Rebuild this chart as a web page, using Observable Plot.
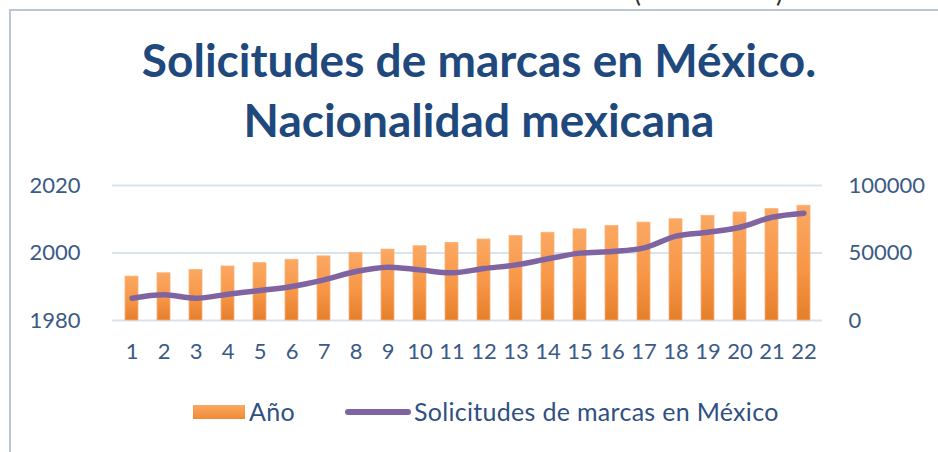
<!DOCTYPE html>
<html>
<head>
<meta charset="utf-8">
<script src="https://cdn.jsdelivr.net/npm/d3@7"></script>
<script src="https://cdn.jsdelivr.net/npm/@observablehq/plot@0.6"></script>
<style>
  html, body { margin: 0; padding: 0; background: #fff; }
  #page { position: relative; width: 938px; height: 452px; overflow: hidden; background: #fff; font-family: Lato, "Open Sans", sans-serif; }
  #frame { position: absolute; left: 9px; top: 9px; width: 960px; height: 470px; border-left: 2px solid #bcc6d3; border-top: 2px solid #bcc6d3; }
  .paren { position: absolute; top: -24px; font-size: 26px; color: #333; font-family: Lato, sans-serif; }
  #title { position: absolute; left: 79px; width: 800px; top: 30px; text-align: center; font-weight: 700; font-size: 46px; line-height: 60px; color: #1f497d; }
  #chart { position: absolute; left: 0; top: 160px; }
  .leg { position: absolute; font-size: 25px; color: #2f5082; line-height: 26px; letter-spacing: 0.3px; }
</style>
</head>
<body>
<div id="page">
  <div id="frame"></div>
  <div class="paren" style="left:634px">(</div>
  <div class="paren" style="left:776px">)</div>
  <div id="title">Solicitudes de marcas en México.<br>Nacionalidad mexicana</div>
  <div id="chart"></div>
  <div style="position:absolute;left:193px;top:405px;width:52px;height:14px;background:linear-gradient(#fba862,#f08a35);"></div>
  <div class="leg" style="left:249px;top:398px">Año</div>
  <div style="position:absolute;left:345px;top:409px;width:66px;height:6px;border-radius:3px;background:#8064a2;"></div>
  <div class="leg" style="left:414px;top:398px">Solicitudes de marcas en México</div>
</div>
<script>
const categorias = [1,2,3,4,5,6,7,8,9,10,11,12,13,14,15,16,17,18,19,20,21,22];
const anios = [1993,1994,1995,1996,1997,1998,1999,2000,2001,2002,2003,2004,2005,2006,2007,2008,2009,2010,2011,2012,2013,2014];
const solicitudes = [16500,19000,16500,19500,22200,25200,30100,36300,39500,37500,35300,38500,41200,45700,49900,51100,53800,62500,65400,69100,76500,79500];
const ticksIzq = [1980, 2000, 2020];
const ticksDer = [0, 50000, 100000];

// secondary axis mapped onto the primary scale
const sec = d3.scaleLinear([0, 100000], [1980, 2020]);

const datos = categorias.map((c, i) => ({cat: c, anio: anios[i], sol: solicitudes[i], solY: sec(solicitudes[i])}));

const chart = Plot.plot({
  width: 938,
  height: 215,
  marginTop: 25,
  marginBottom: 55,
  marginLeft: 112,
  marginRight: 116,
  style: {fontFamily: "Lato, 'Open Sans', sans-serif", fontSize: "22px", color: "#3b5a85", background: "transparent", overflow: "visible"},
  x: {type: "band", domain: categorias, paddingInner: 0.6, paddingOuter: 0.3, align: 0.5, axis: null},
  y: {domain: [1980, 2020], axis: null},
  marks: [
    Plot.ruleY(ticksIzq, {stroke: "#d8e3f0", strokeWidth: 2}),
    Plot.barY(datos, {x: "cat", y1: 1980, y2: "anio", fill: "url(#barGrad)", stroke: "#fbb27a", strokeWidth: 0.8}),
    Plot.line(datos, {x: "cat", y: "solY", stroke: "#8064a2", strokeWidth: 5.5, curve: "catmull-rom", strokeLinecap: "round", strokeLinejoin: "round"}),
    Plot.axisX(categorias, {tickSize: 0, tickPadding: 23, fontSize: 22, fill: "#3b5a85", label: null}),
    Plot.axisY(ticksIzq, {anchor: "left", tickSize: 0, tickPadding: 32, fontSize: 22, fill: "#3b5a85", tickFormat: d => String(d), label: null}),
    Plot.axisY(ticksDer.map(v => sec(v)), {anchor: "right", tickSize: 0, tickPadding: 26, fontSize: 22, fill: "#3b5a85", tickFormat: (d, i) => String(ticksDer[i]), label: null})
  ]
});

const svg = d3.select(chart);
const grad = svg.insert("defs", ":first-child").append("linearGradient")
  .attr("id", "barGrad").attr("x1", 0).attr("y1", 0).attr("x2", 0).attr("y2", 1);
grad.append("stop").attr("offset", "0%").attr("stop-color", "#fba862");
grad.append("stop").attr("offset", "55%").attr("stop-color", "#f79646");
grad.append("stop").attr("offset", "100%").attr("stop-color", "#e47f2c");

document.getElementById("chart").appendChild(chart);
</script>
</body>
</html>
